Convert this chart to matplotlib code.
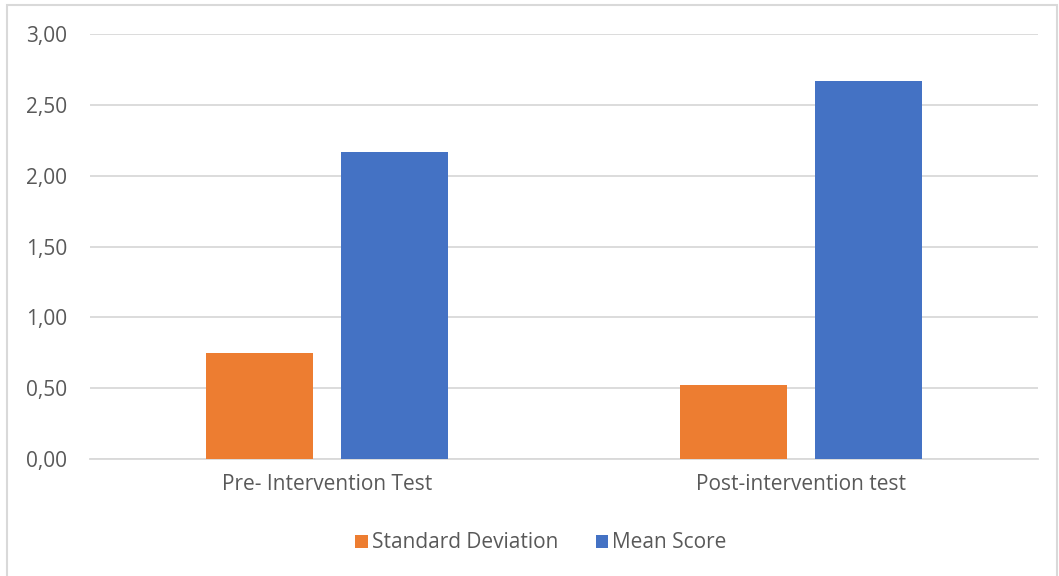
import matplotlib.pyplot as plt
import matplotlib.patches as mpatches
import numpy as np
from matplotlib.ticker import MultipleLocator, FuncFormatter

plt.rcParams['font.family'] = ['Open Sans', 'DejaVu Sans']

tests = ['Pre- Intervention Test', 'Post-intervention test']
std_dev = [0.75, 0.52]
mean_score = [2.17, 2.67]

text_color = '#595959'
grid_color = '#d9d9d9'

fig = plt.figure(figsize=(10.59, 5.76), dpi=100)
ax = fig.add_axes([90 / 1059, 1 - 459 / 576, 948 / 1059, 425 / 576])

# outer chart border
fig.patches.append(mpatches.Rectangle((7 / 1059, -0.1), 1050 / 1059, 1.1 - 5 / 576,
                                      transform=fig.transFigure, fill=False,
                                      edgecolor=grid_color, linewidth=1.5))

x = np.arange(len(tests))
w = 0.225
off = 0.142
ax.bar(x - off, std_dev, w, color='#ed7d31', label='Standard Deviation', zorder=3)
ax.bar(x + off, mean_score, w, color='#4472c4', label='Mean Score', zorder=3)

ax.set_xlim(-0.5, 1.5)
ax.set_ylim(0, 3.0)
ax.yaxis.set_major_locator(MultipleLocator(0.5))
ax.yaxis.set_major_formatter(FuncFormatter(lambda v, p: f'{v:.2f}'.replace('.', ',')))
ax.set_xticks(x)
ax.set_xticklabels(tests)
ax.grid(axis='y', color=grid_color, linewidth=1.3, zorder=0)
for s in ['top', 'right', 'left']:
    ax.spines[s].set_visible(False)
ax.spines['bottom'].set_color(grid_color)
ax.spines['bottom'].set_linewidth(1.3)
ax.tick_params(axis='both', length=0, labelsize=15, colors=text_color)
ax.tick_params(axis='y', pad=16.5)
ax.tick_params(axis='x', pad=11)

fig.legend(loc='center', bbox_to_anchor=(541 / 1059, 1 - 543 / 576), ncol=2, frameon=False,
           fontsize=15, labelcolor=text_color, handlelength=0.6, handleheight=0.6,
           handletextpad=0.2, columnspacing=1.8)

fig.savefig('out.png', dpi=100)
